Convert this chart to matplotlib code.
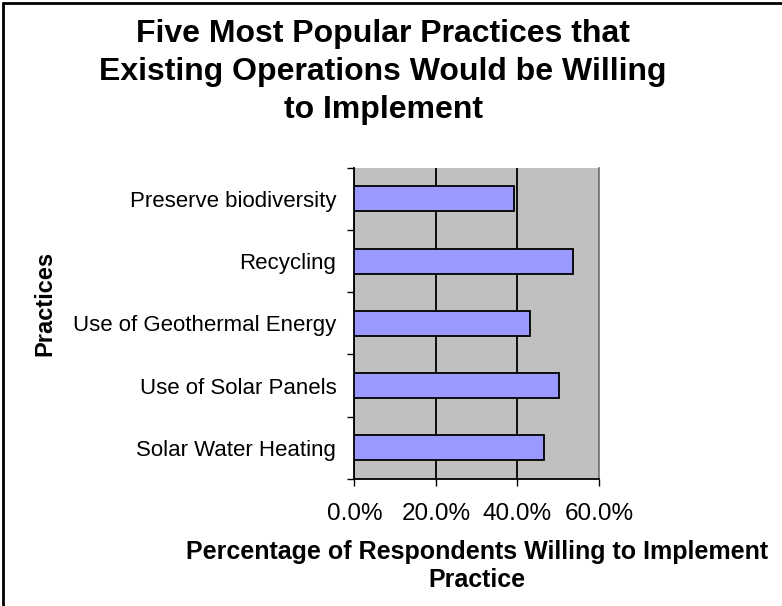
import matplotlib.pyplot as plt
from matplotlib.patches import Rectangle
from matplotlib.ticker import FixedLocator, FuncFormatter

# practices listed bottom to top
practices = ['Solar Water Heating', 'Use of Solar Panels', 'Use of Geothermal Energy',
             'Recycling', 'Preserve biodiversity']
willing_pct = [46.6, 50.1, 43.1, 53.6, 39.2]
x_ticks = [0, 20, 40, 60]

plt.rcParams['font.family'] = ['Liberation Sans', 'DejaVu Sans']

fig = plt.figure(figsize=(7.82, 6.06), dpi=100)
ax = fig.add_axes([0.4531, 0.2096, 0.3129, 0.5137])
ax.set_facecolor('#C0C0C0')

ypos = list(range(len(practices)))
ax.barh(ypos, willing_pct, height=0.4, color='#9999FF', edgecolor='black',
        linewidth=1.3, zorder=3)

ax.set_xlim(0, 60)
ax.set_ylim(-0.5, len(practices) - 0.5)

ax.set_xticks(x_ticks)
ax.xaxis.set_major_formatter(FuncFormatter(lambda v, p: f'{v:.1f}%'))
ax.xaxis.grid(True, color='black', linewidth=1.3, zorder=1)
ax.tick_params(axis='x', direction='out', length=5, width=1, labelsize=17.5, pad=12)

ax.set_yticks(ypos)
ax.set_yticklabels(practices)
ax.yaxis.set_minor_locator(FixedLocator([i + 0.5 for i in range(-1, len(practices))]))
ax.tick_params(axis='y', which='major', length=0, labelsize=16, pad=13)
ax.tick_params(axis='y', which='minor', direction='out', length=5, width=1)

ax.spines['top'].set_visible(False)
ax.spines['right'].set_color('#808080')
ax.spines['right'].set_linewidth(1.3)
ax.spines['left'].set_linewidth(1.3)
ax.spines['bottom'].set_linewidth(1.3)

ax.set_xlabel('Percentage of Respondents Willing to Implement\nPractice',
              fontsize=18, fontweight='bold', linespacing=1.25)
ax.xaxis.set_label_coords(0.5, -0.195)
ax.xaxis.label.set_va('top')
ax.set_ylabel('Practices', fontsize=17, fontweight='bold')
ax.yaxis.set_label_coords(45 / 782, 0.5, transform=fig.transFigure)
ax.yaxis.label.set_va('center')

fig.text(383 / 782, 1 - 72 / 606,
         'Five Most Popular Practices that\nExisting Operations Would be Willing\nto Implement',
         ha='center', va='center', fontsize=23, fontweight='bold', linespacing=1.36)

# chart frame
fig.patches.append(Rectangle((2.5 / 782, -0.1), 1.2, 1 - 2.5 / 606 + 0.1,
                             transform=fig.transFigure, fill=False,
                             edgecolor='black', linewidth=2))

fig.savefig('out.png', dpi=100)
